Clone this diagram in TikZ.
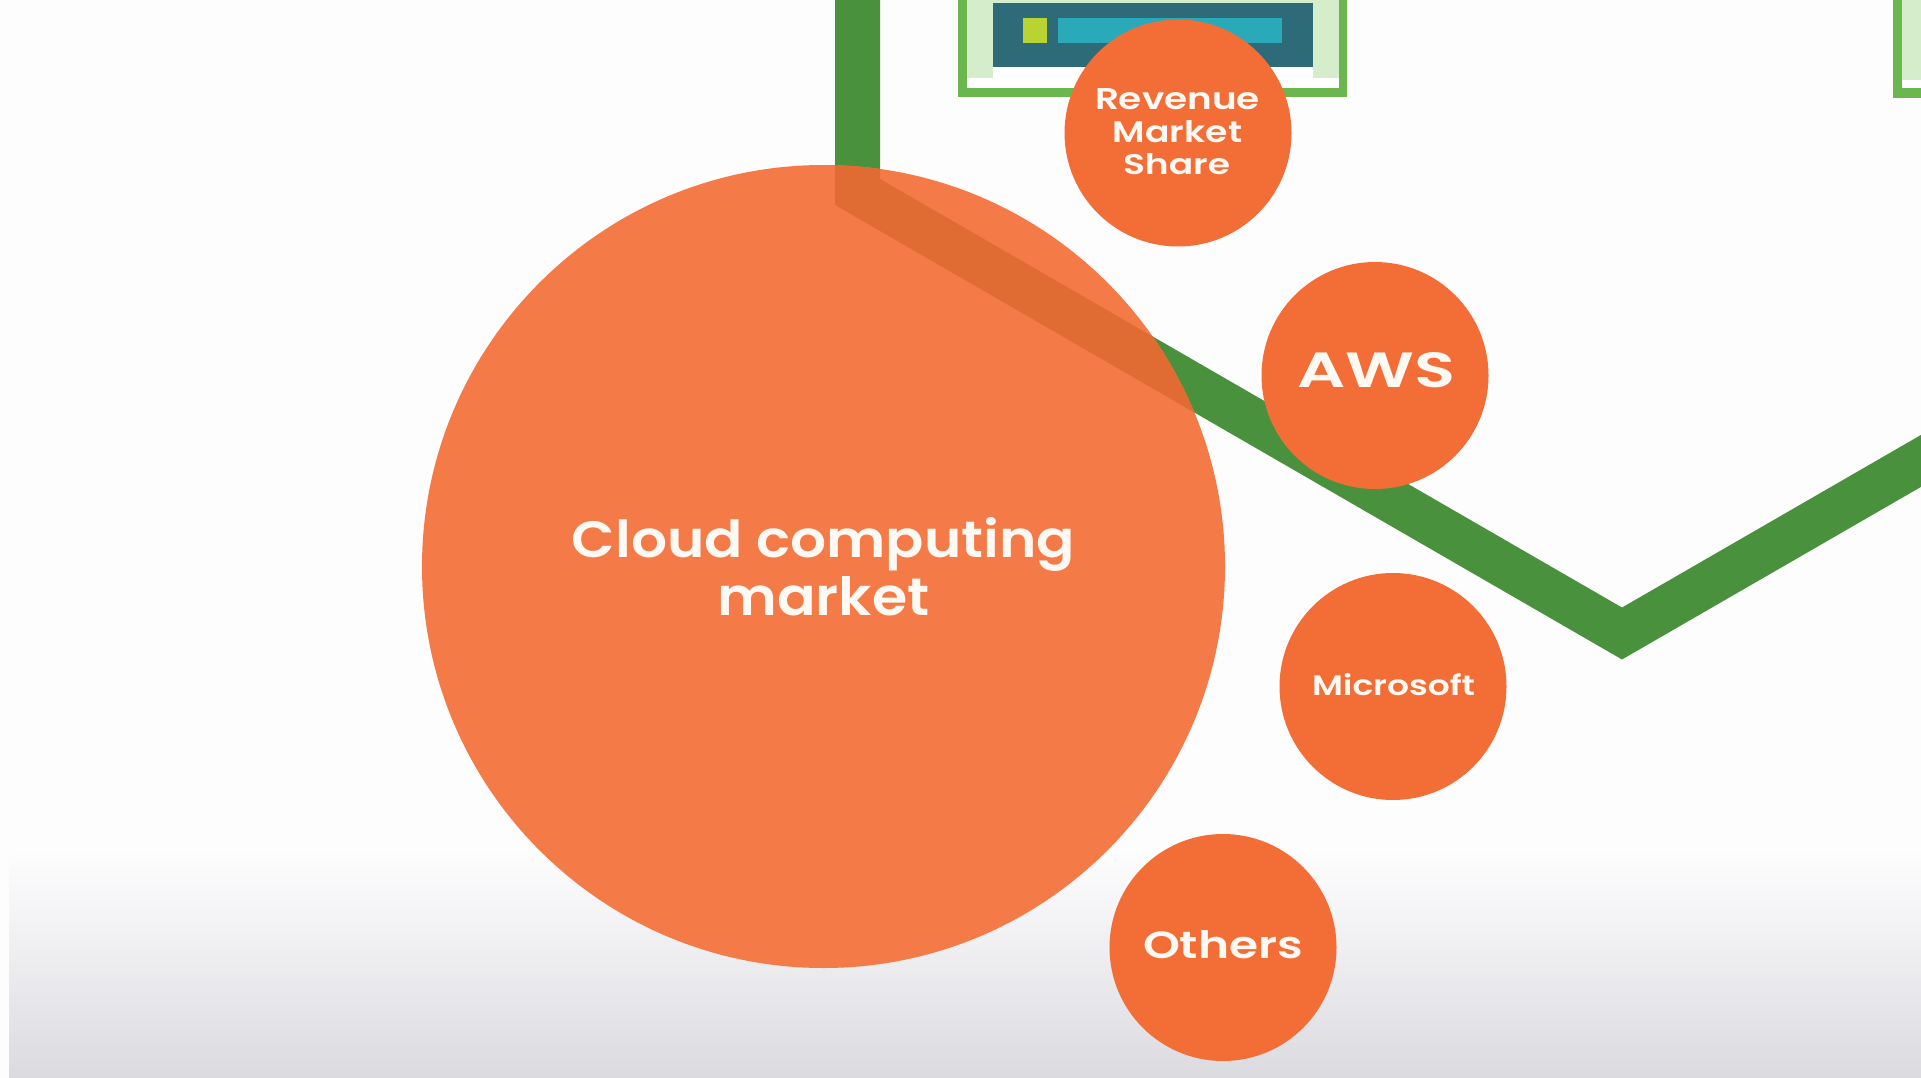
\documentclass[tikz,border=0pt]{standalone}
\usepackage{fontspec}
\usepackage{graphicx}
\newfontfamily\labfont{Poppins SemiBold}
\definecolor{bgwhite}{HTML}{FEFDFE}
\definecolor{bggray}{HTML}{DBDADF}
\definecolor{linegreen}{HTML}{4A913D}
\definecolor{framegreen}{HTML}{6CB64F}
\definecolor{palegreen}{HTML}{D5EDCB}
\definecolor{tealbox}{HTML}{2C6B77}
\definecolor{cyanbar}{HTML}{2AAAB9}
\definecolor{limesq}{HTML}{B9D432}
\definecolor{bigorange}{HTML}{F47B48}
\definecolor{smallorange}{HTML}{F36D37}
\definecolor{overlaporange}{HTML}{E06C33}
\definecolor{txt}{HTML}{FFF9F3}
\begin{document}
\begin{tikzpicture}[x=1pt,y=-1pt,
  bigc/.style={circle,fill=bigorange,inner sep=0pt,minimum size=803pt},
  smallc/.style={circle,fill=smallorange,inner sep=0pt,minimum size=227pt},
  lab/.style={anchor=base,inner sep=0pt,text=txt,font=\labfont},
  gline/.style={line width=45pt,miter limit=10,line join=miter}]
\useasboundingbox (0,0) rectangle (1921,1078);
\clip (0,0) rectangle (1921,1078);
% background
\fill[bgwhite] (0,0) rectangle (1921,1078);
\shade[top color=bgwhite,bottom color=bggray] (9,850) rectangle (1921,1078);
% top frame (middle)
\fill[framegreen] (958,-5) rectangle (1347,97);
\fill[white] (967,-5) rectangle (1339,88);
\fill[palegreen] (967,-5) rectangle (993,78);
\fill[palegreen] (1313,-5) rectangle (1339,78);
\fill[palegreen] (993,-5) rectangle (1313,3);
\fill[tealbox] (993,3) rectangle (1313,67);
\fill[limesq] (1023,18) rectangle (1047,43);
\fill[cyanbar] (1058,18) rectangle (1282,43);
% top frame (right edge)
\fill[framegreen] (1893,-5) rectangle (1940,98);
\fill[white] (1902,-5) rectangle (1940,88);
\fill[palegreen] (1902,-5) rectangle (1940,80);
% green line
\def\greenpath{(857.5,-40) -- (857.5,192) -- (1622,633.5) -- (2000,415.3)}
\draw[gline,linegreen] \greenpath;
% big circle
\node[bigc] (market) at (823.5,566.5) {};
\begin{scope}
  \clip (823.5,566.5) circle (401.5);
  \draw[gline,overlaporange] \greenpath;
\end{scope}
% small circles
\node[smallc] (revenue) at (1178,133) {};
\node[smallc] (aws) at (1375,375.5) {};
\node[smallc] (microsoft) at (1393,686.5) {};
\node[smallc] (others) at (1223,947.5) {};
% labels
\node[lab] (marketA) at (823.5,557) {\resizebox{503pt}{40pt}{Cloud computing}};
\node[lab] (marketB) at (823.5,615) {\resizebox{212pt}{39pt}{market}};
\node[lab] (revA) at (1177.5,110) {\resizebox{165pt}{21pt}{Revenue}};
\node[lab] (revB) at (1177.5,143) {\resizebox{129pt}{22pt}{Market}};
\node[lab] (revC) at (1176.5,175) {\resizebox{107pt}{21pt}{Share}};
\node[lab] (awsT) at (1376,387) {\resizebox{158pt}{35pt}{AWS}};
\node[lab] (msT) at (1393.5,695) {\resizebox{163pt}{22pt}{Microsoft}};
\node[lab] (othT) at (1223,958) {\resizebox{160pt}{28pt}{Others}};
\end{tikzpicture}
\end{document}
